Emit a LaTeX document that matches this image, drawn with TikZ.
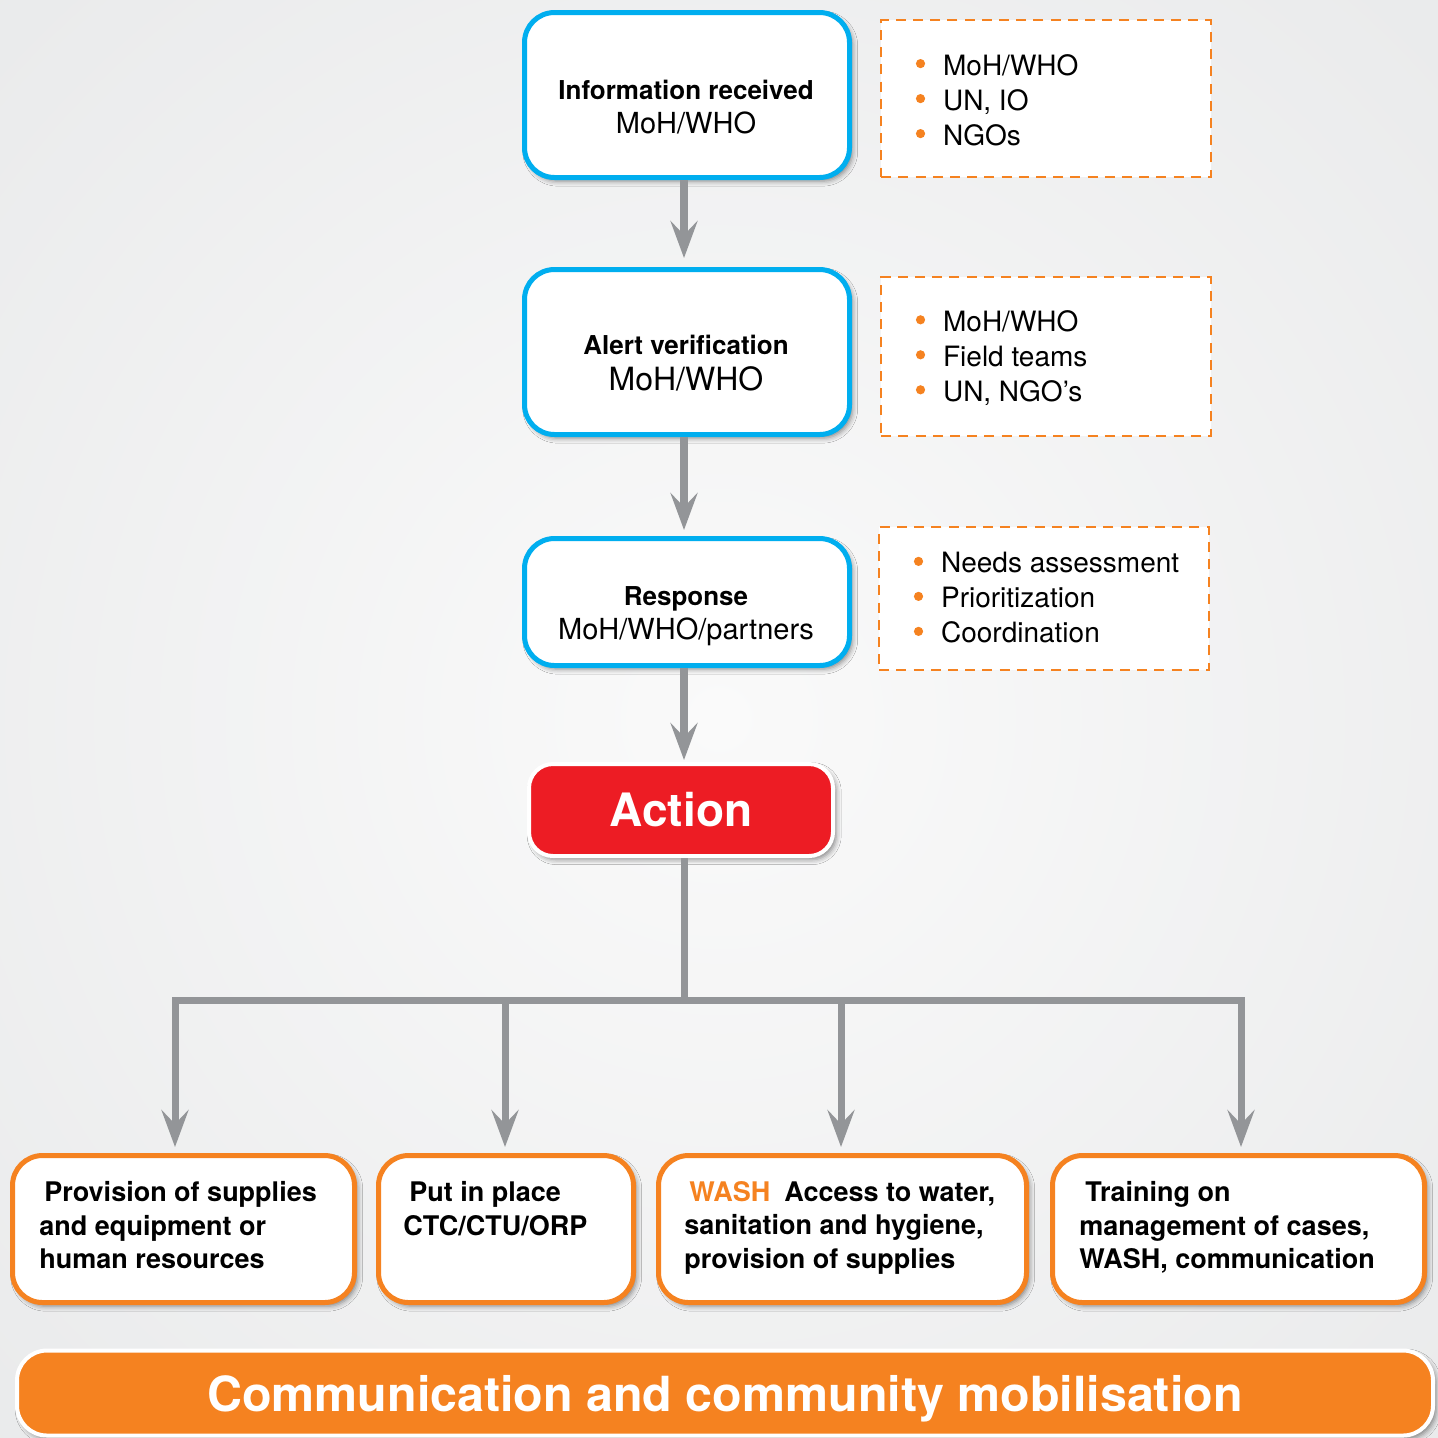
\documentclass[tikz,border=0pt]{standalone}
\usepackage{fontspec}
\setmainfont{TeX Gyre Heros}
\usetikzlibrary{arrows.meta,shadows.blur}
\definecolor{cblue}{RGB}{0,174,239}
\definecolor{corange}{RGB}{245,130,32}
\definecolor{cred}{RGB}{237,28,36}
\definecolor{cgray}{RGB}{147,149,152}
\definecolor{bgedge}{RGB}{232,233,234}
\definecolor{bgmid}{RGB}{250,250,250}
\newcommand\obul{\raisebox{0.25em}{\tikz\fill[corange] (0,0) circle[radius=2.3pt];}\hspace{9pt}}
\begin{document}
\begin{tikzpicture}[x=0.5pt,y=-0.5pt,
  softshadow/.style={blur shadow={shadow xshift=1.6pt,shadow yshift=-1.8pt,shadow blur radius=2.5pt,shadow opacity=45}},
  bluebox/.style={draw=cblue,line width=2.5pt,fill=white,rounded corners=15pt,minimum width=162.5pt,inner sep=0pt,softshadow},
  dashbox/.style={draw=corange,line width=1.2pt,dash pattern=on 5pt off 3.6pt,fill=white,minimum width=164.8pt,inner sep=0pt},
  dashtext/.style={anchor=west,align=left,inner sep=0pt,font=\fontsize{14}{17.5}\selectfont},
  boxtext/.style={align=center,inner sep=0pt},
  obox/.style={draw=corange,line width=2.5pt,fill=white,rounded corners=15pt,minimum height=73.5pt,inner sep=0pt,softshadow},
  btext/.style={anchor=north west,align=left,inner sep=0pt,font=\bfseries\fontsize{13.5}{16.75}\selectfont},
  conn/.style={draw=cgray,line width=4pt,-{Stealth[length=18.5pt,width=13.5pt,inset=7pt]}},
  tree/.style={draw=cgray,line width=3.5pt},
  treearrow/.style={tree,-{Stealth[length=18.5pt,width=13.5pt,inset=7pt]},shorten >=3pt}]
\useasboundingbox (0,0) rectangle (1438,1437);
\shade[inner color=bgmid,outer color=bgedge] (-400,-400) rectangle (1838,1837);

% top flow boxes
\node[bluebox,minimum height=82.5pt] (info) at (687,95) {};
\node[boxtext,font=\fontsize{14.5}{17}\selectfont] (infot) at (686,107)
  {{\bfseries\fontsize{13}{17}\selectfont Information received}\\MoH/WHO};
\node[bluebox,minimum height=82.5pt] (alert) at (687,352) {};
\node[boxtext,font=\fontsize{16}{18}\selectfont] (alertt) at (686,363)
  {{\bfseries\fontsize{13}{18}\selectfont Alert verification}\\MoH/WHO};
\node[bluebox,minimum height=63.5pt] (resp) at (687,602) {};
\node[boxtext,font=\fontsize{14.5}{17}\selectfont] (respt) at (686,616)
  {{\bfseries\fontsize{13}{17}\selectfont Response}\\MoH/WHO/partners};

% dashed side boxes
\node[dashbox,minimum height=78.3pt] (d1) at (1046,98.5) {};
\node[dashtext] (d1t) at (915.5,100) {\obul MoH/WHO\\\obul UN, IO\\\obul NGOs};
\node[dashbox,minimum height=79.3pt] (d2) at (1046,356.5) {};
\node[dashtext] (d2t) at (915.5,358) {\obul MoH/WHO\\\obul Field teams\\\obul UN, NGO’s};
\node[dashbox,minimum height=71.3pt] (d3) at (1044,598.5) {};
\node[dashtext] (d3t) at (913.5,598) {\obul Needs assessment\\\obul Prioritization\\\obul Coordination};

% action
\node[draw=white,line width=2pt,fill=cred,rounded corners=12pt,minimum width=152pt,minimum height=46pt,
  text=white,font=\bfseries\fontsize{23}{27}\selectfont,softshadow] (action) at (681,810) {Action};

% connectors
\draw[conn,shorten >=4.5pt] ([xshift=-1.5pt]info.south) -- ([xshift=-1.5pt]alert.north);
\draw[conn,shorten >=3pt] ([xshift=-1.5pt]alert.south) -- ([xshift=-1.5pt]resp.north);
\draw[conn,shorten >=1pt] ([xshift=-1.5pt]resp.south) -- ([xshift=-1.5pt]resp.south |- action.north);

% bottom boxes
\node[obox,minimum width=171pt] (b1) at (183.5,1229) {};
\node[obox,minimum width=127.5pt] (b2) at (506,1229) {};
\node[obox,minimum width=184pt] (b3) at (842.5,1229) {};
\node[obox,minimum width=186pt] (b4) at (1238.5,1229) {};
\node[btext] (b1t) at (39,1181) {\hspace{2.5pt}Provision of supplies\\and equipment or\\human resources};
\node[btext] (b2t) at (403,1181) {\hspace{3pt}Put in place\\CTC/CTU/ORP};
\node[btext] (b3t) at (684,1181) {\hspace{2.5pt}\textcolor{corange}{WASH}\hspace{7pt}Access to water,\\sanitation and hygiene,\\provision of supplies};
\node[btext] (b4t) at (1079,1181) {\hspace{3pt}Training on\\management of cases,\\WASH, communication};

% tree
\coordinate (hub) at (684,1000);
\coordinate (j1) at (175,1000);
\coordinate (j2) at (505,1000);
\coordinate (j3) at (841,1000);
\coordinate (j4) at (1241,1000);
\draw[tree] (hub |- action.south) -- (hub);
\draw[tree,line cap=rect] (j1) -- (j4);
\draw[treearrow] (j1) -- (j1 |- b1.north);
\draw[treearrow] (j2) -- (j2 |- b2.north);
\draw[treearrow] (j3) -- (j3 |- b3.north);
\draw[treearrow] (j4) -- (j4 |- b4.north);

% banner
\node[draw=white,line width=2pt,fill=corange,rounded corners=15pt,minimum width=708pt,minimum height=42.5pt,
  text=white,text depth=0pt,font=\bfseries\fontsize{24.2}{28}\selectfont,softshadow] (banner) at (725,1393) {Communication and community mobilisation};
\end{tikzpicture}
\end{document}
